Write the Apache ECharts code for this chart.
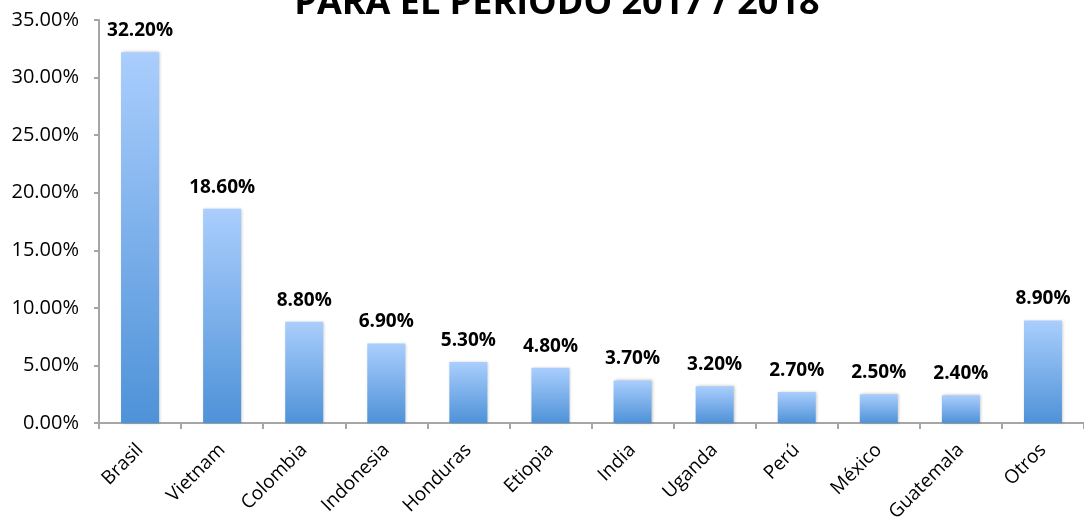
<!DOCTYPE html>
<html>
<head>
<meta charset="utf-8">
<script src="https://cdn.jsdelivr.net/npm/echarts@6/dist/echarts.min.js"></script>
<style>
  html, body { margin: 0; padding: 0; background: #fff; }
  #chart { width: 1084px; height: 527px; }
</style>
</head>
<body>
<div id="chart"></div>
<script>
const categories = ['Brasil', 'Vietnam', 'Colombia', 'Indonesia', 'Honduras', 'Etiopia', 'India', 'Uganda', 'Perú', 'México', 'Guatemala', 'Otros']
const shares = [32.2, 18.6, 8.8, 6.9, 5.3, 4.8, 3.7, 3.2, 2.7, 2.5, 2.4, 8.9]
const titleText = 'PARA EL PERIODO 2017 / 2018'

const chart = echarts.init(document.getElementById('chart'))

const option = {
  animation: false,
  textStyle: { fontFamily: 'Open Sans, Liberation Sans, sans-serif' },
  title: {
    text: titleText,
    left: 552,
    textAlign: 'center',
    top: -19,
    textStyle: { fontSize: 36, fontWeight: 'bold', color: '#000' },
  },
  grid: {
    left: 99,
    right: -12,
    top: 20,
    bottom: 104,
  },
  xAxis: {
    type: 'category',
    data: categories,
    axisLine: { lineStyle: { color: '#a6a6a6', width: 2 } },
    axisTick: { show: true, alignWithLabel: false, length: 6, lineStyle: { color: '#a6a6a6', width: 2 } },
    axisLabel: { rotate: 45, color: '#000', fontSize: 19, margin: 24 },
  },
  yAxis: {
    type: 'value',
    min: 0,
    max: 35,
    interval: 5,
    axisLine: { show: true, lineStyle: { color: '#a6a6a6', width: 2 } },
    axisTick: { show: true, inside: false, length: 5, lineStyle: { color: '#a6a6a6', width: 2 } },
    splitLine: { show: false },
    axisLabel: {
      color: '#000',
      fontSize: 20,
      margin: 20,
      formatter: v => v.toFixed(2) + '%',
    },
  },
  series: [
    {
      type: 'bar',
      data: shares,
      barWidth: 38,
      itemStyle: {
        color: new echarts.graphic.LinearGradient(0, 0, 0, 1, [
          { offset: 0, color: '#aacefd' },
          { offset: 1, color: '#4e92d8' },
        ]),
        shadowColor: 'rgba(0,0,0,0.25)',
        shadowBlur: 3,
        shadowOffsetX: 1,
      },
      label: {
        show: true,
        position: 'top',
        distance: 12,
        color: '#000',
        fontSize: 19,
        fontWeight: 'bold',
        formatter: p => p.value.toFixed(2) + '%',
      },
    },
  ],
}

chart.setOption(option)
</script>
</body>
</html>
